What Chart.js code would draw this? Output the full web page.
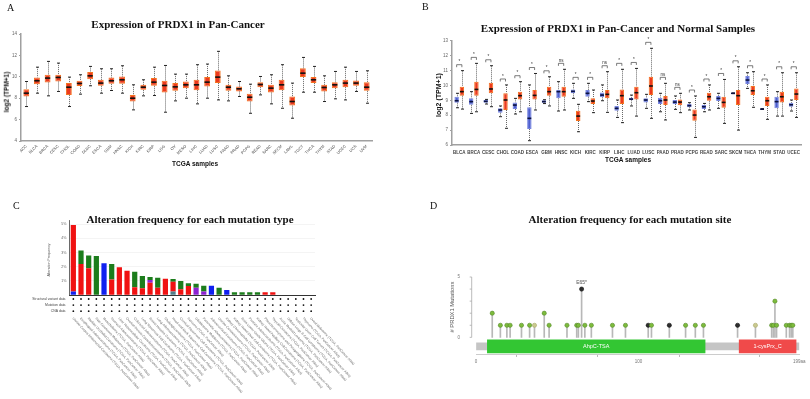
<!DOCTYPE html>
<html><head><meta charset="utf-8">
<script src="https://cdn.jsdelivr.net/npm/chart.js@4.4.1/dist/chart.umd.min.js"></script>
<style>
html,body{margin:0;padding:0;background:#fff;}
#wrap{position:relative;width:810px;height:399px;overflow:hidden;font-family:"Liberation Sans",Arial,sans-serif;background:#fff;}
#wrap canvas{position:absolute;}
.t{position:absolute;white-space:nowrap;line-height:1;}
.serif{font-family:"Liberation Serif","Times New Roman",serif;color:#111;}
.ttl{font-weight:bold;font-size:11px;transform:translate(-50%,-50%);}
.let{font-size:10px;}
.ax{font-weight:bold;color:#111;transform:translate(-50%,-50%);}
.rot{transform:translate(-50%,-50%) rotate(-90deg);}
</style></head>
<body><div id="wrap">
<canvas id="cA" width="405" height="200" style="left:0;top:0;width:405px;height:200px"></canvas>
<canvas id="cB" width="405" height="200" style="left:405px;top:0;width:405px;height:200px"></canvas>
<canvas id="cC" width="405" height="199" style="left:0;top:200px;width:405px;height:199px"></canvas>
<canvas id="cD" width="405" height="199" style="left:405px;top:200px;width:405px;height:199px"></canvas>

<div class="t serif let" style="left:7px;top:2.7px">A</div>
<div class="t serif let" style="left:422px;top:1.7px">B</div>
<div class="t serif let" style="left:13px;top:200.7px">C</div>
<div class="t serif let" style="left:430px;top:200.7px">D</div>

<div class="t serif ttl" style="left:178px;top:24px">Expression of PRDX1 in Pan-Cancer</div>
<div class="t serif ttl" style="left:618px;top:28px">Expression of PRDX1 in Pan-Cancer and Normal Samples</div>
<div class="t serif ttl" style="left:190px;top:219px">Alteration frequency for each mutation type</div>
<div class="t serif ttl" style="left:630px;top:219px">Alteration frequency for each mutation site</div>

<div class="t ax rot" style="left:6.5px;top:91.5px;font-size:6.5px">log2 (TPM+1)</div>
<div class="t ax" style="left:195px;top:164px;font-size:6.5px">TCGA samples</div>
<div class="t ax rot" style="left:438px;top:95px;font-size:7px">log2 (TPM+1)</div>
<div class="t ax" style="left:628px;top:160px;font-size:6.5px">TCGA samples</div>
<div class="t rot" style="left:453px;top:307px;font-size:5.8px;color:#555">#&nbsp;PRDX1 Mutations</div>
</div>
<script>
// ---------------- DATA ----------------
// Panel A: tumour expression, log2(TPM+1)
const cancersA = ['ACC','BLCA','BRCA','CESC','CHOL','COAD','DLBC','ESCA','GBM','HNSC','KICH','KIRC','KIRP','LGG','OV','MESO','LIHC','LUAD','LUSC','PAAD','PRAD','PCPG','READ','SARC','SKCM','LAML','TGCT','THCA','THYM','STAD','UCEC','UCS','UVM'];
const aMax = [9.56,10.9,11.44,11.28,9.97,10.19,10.97,10.75,10.75,11.03,9.25,9.72,10.9,11.06,10.25,10.25,11.13,11.19,12.38,10.09,9.56,9.31,10.03,10.19,11.13,9.41,11.81,10.97,10.09,10.5,10.9,10.5,10.56];
const aQ3  = [8.84,9.94,10.19,10.19,9.41,9.63,10.44,9.72,9.94,10.03,8.31,9.25,9.88,9.63,9.41,9.56,9.72,9.97,10.59,9.25,9.09,8.41,9.5,9.25,9.72,8.16,10.81,9.97,9.25,9.5,9.72,9.66,9.5];
const aMed = [8.47,9.63,9.88,9.94,9.03,9.38,10.09,9.41,9.63,9.72,8.0,9.03,9.5,9.19,9.06,9.25,9.25,9.5,9.97,9.03,8.88,8.09,9.28,8.94,9.25,7.69,10.34,9.72,9.0,9.25,9.41,9.41,9.03];
const aQ1  = [8.16,9.31,9.47,9.56,8.31,9.13,9.78,9.16,9.34,9.34,7.69,8.78,9.16,8.53,8.69,8.94,8.75,9.09,9.41,8.69,8.63,7.69,9.03,8.53,8.75,7.31,9.97,9.41,8.63,8.94,9.03,9.16,8.69];
const aMin = [7.22,8.47,8.22,8.63,7.22,8.38,9.16,8.47,8.72,8.47,6.91,8.22,8.25,6.69,7.75,8.0,7.47,8.0,7.84,7.75,8.16,6.59,8.31,7.47,7.06,6.13,8.56,8.56,7.69,7.94,7.84,8.63,7.53];

// Panel B: normal vs tumour
const cancersB = ['BLCA','BRCA','CESC','CHOL','COAD','ESCA','GBM','HNSC','KICH','KIRC','KIRP','LIHC','LUAD','LUSC','PAAD','PRAD','PCPG','READ','SARC','SKCM','THCA','THYM','STAD','UCEC'];
const nMin = [8.5,8.12,8.75,7.9,8.08,6.29,8.78,8.28,9.13,8.91,8.97,7.85,8.62,8.46,8.23,8.39,8.35,8.23,8.46,9.45,9.8,8.39,7.94,8.28];
const nQ1  = [8.84,8.7,8.84,8.17,8.41,7.07,8.84,9.13,9.47,9.24,9.2,8.3,9.0,8.86,8.75,8.75,8.53,8.41,8.95,9.45,10.09,8.39,8.46,8.57];
const nMed = [8.97,8.91,8.93,8.35,8.68,7.79,8.91,9.58,9.6,9.47,9.35,8.46,9.08,9.02,8.97,8.88,8.64,8.57,9.13,9.47,10.36,8.41,8.91,8.7];
const nQ3  = [9.24,9.13,9.02,8.46,8.86,8.53,9.0,9.69,9.73,9.69,9.53,8.62,9.17,9.13,9.17,9.02,8.75,8.68,9.29,9.49,10.63,8.43,9.24,8.84];
const nMax = [9.47,9.58,9.06,8.62,9.13,10.03,9.04,10.25,10.14,10.14,10.03,9.02,9.35,9.4,9.47,9.29,8.84,8.79,9.47,9.49,10.85,8.43,9.58,9.02];
const tMin = [8.41,8.23,8.57,7.12,8.23,8.35,8.62,8.35,6.89,8.17,8.19,7.5,7.94,7.79,7.68,8.17,6.51,8.35,7.45,7.0,8.53,7.72,7.94,7.85];
const tQ1  = [9.31,9.31,9.47,8.35,9.06,9.06,9.31,9.24,7.61,8.75,9.13,8.75,9.06,9.35,8.68,8.66,7.63,8.97,8.5,8.68,9.35,8.62,8.86,9.02];
const tMed = [9.58,9.73,9.76,9.02,9.31,9.33,9.58,9.58,7.94,8.95,9.4,9.31,9.51,9.96,9.02,8.88,8.01,9.24,8.86,9.31,9.64,8.97,9.24,9.42];
const tQ3  = [9.91,10.25,10.18,9.47,9.58,9.69,9.91,9.91,8.3,9.13,9.69,9.73,9.91,10.58,9.29,9.06,8.39,9.51,9.24,9.69,9.96,9.24,9.58,9.8];
const tMax = [10.99,11.48,11.32,10.03,10.25,10.8,10.58,11.08,8.73,9.69,10.92,11.08,11.14,12.49,10.14,9.47,9.29,10.03,10.4,11.25,10.92,10.03,10.85,10.85];
const sigB = ['*','*','*','*','*','*','*','ns','*','*','ns','*','*','*','ns','ns','*','*','*','*','*','*','*','*'];

// Panel C: alteration frequency (%) per study
const studiesC = [
 'Uterine Corpus Endometrial Carcinoma (TCGA, PanCancer Atlas)',
 'Esophageal Adenocarcinoma (TCGA, PanCancer Atlas)',
 'Bladder Urothelial Carcinoma (TCGA, PanCancer Atlas)',
 'Skin Cutaneous Melanoma (TCGA, PanCancer Atlas)',
 'Mesothelioma (TCGA, PanCancer Atlas)',
 'Stomach Adenocarcinoma (TCGA, PanCancer Atlas)',
 'Liver Hepatocellular Carcinoma (TCGA, PanCancer Atlas)',
 'Ovarian Serous Cystadenocarcinoma (TCGA, PanCancer Atlas)',
 'Colorectal Adenocarcinoma (TCGA, PanCancer Atlas)',
 'Lung Squamous Cell Carcinoma (TCGA, PanCancer Atlas)',
 'Breast Invasive Carcinoma (TCGA, PanCancer Atlas)',
 'Lung Adenocarcinoma (TCGA, PanCancer Atlas)',
 'Cholangiocarcinoma (TCGA, PanCancer Atlas)',
 'Head and Neck Squamous Cell Carcinoma (TCGA, PanCancer Atlas)',
 'Cervical Squamous Cell Carcinoma (TCGA, PanCancer Atlas)',
 'Sarcoma (TCGA, PanCancer Atlas)',
 'Glioblastoma Multiforme (TCGA, PanCancer Atlas)',
 'Pancreatic Adenocarcinoma (TCGA, PanCancer Atlas)',
 'Adrenocortical Carcinoma (TCGA, PanCancer Atlas)',
 'Uterine Carcinosarcoma (TCGA, PanCancer Atlas)',
 'Kidney Chromophobe (TCGA, PanCancer Atlas)',
 'Kidney Renal Clear Cell Carcinoma (TCGA, PanCancer Atlas)',
 'Brain Lower Grade Glioma (TCGA, PanCancer Atlas)',
 'Prostate Adenocarcinoma (TCGA, PanCancer Atlas)',
 'Kidney Renal Papillary Cell Carcinoma (TCGA, PanCancer Atlas)',
 'Pheochromocytoma and Paraganglioma (TCGA, PanCancer Atlas)',
 'Thyroid Carcinoma (TCGA, PanCancer Atlas)',
 'Acute Myeloid Leukemia (TCGA, PanCancer Atlas)',
 'Diffuse Large B-Cell Lymphoma (TCGA, PanCancer Atlas)',
 'Testicular Germ Cell Tumors (TCGA, PanCancer Atlas)',
 'Thymoma (TCGA, PanCancer Atlas)',
 'Uveal Melanoma (TCGA, PanCancer Atlas)'];
const cDeepDel = [0.24,0,0,0,2.24,0,0,0,0,0,0,0,0,0,0,0,0,0,0.66,0,0.35,0,0,0,0,0,0,0,0,0,0,0];
const cMulti   = [0,0,0,0,0,0,0,0,0,0,0,0,0,0.24,0,0,0,0,0,0,0,0,0,0,0,0,0,0,0,0,0,0];
const cAmp     = [4.72,2.2,1.9,0,0,1.1,1.96,1.72,0.54,0.47,0.87,0.52,1.15,0.7,0.4,0.64,0,0,0,0,0,0,0,0,0,0.19,0.19,0,0,0,0,0];
const cSV      = [0,0,0,0,0,0,0,0,0,0,0.2,0,0,0,0,0,0.52,0.24,0,0,0,0,0,0,0,0,0,0,0,0,0,0];
const cMut     = [0,0.94,0.9,2.76,0,1.1,0,0,1.11,0.87,0.2,0.7,0,0.19,0.59,0.19,0.28,0.42,0,0.52,0,0.19,0.19,0.19,0.19,0,0,0,0,0,0,0];
const rowLabelsC = ['Structural variant data','Mutation data','CNA data'];
const yTicksC = [0,1,2,3,4,5];

// Panel D: lollipop
const proteinLength = 199;
const domainNames = ['AhpC-TSA','1-cysPrx_C'];
const domainStart = [7,162];
const domainEnd   = [141,197];
const mutPos   = [10,15,19,21,28,33,36,42,45,56,62,63,65,67,71,84,92,106,108,119,129,135,140,161,172,182,183,184,185,191,193,194,195];
const mutCount = [2,1,1,1,1,1,1,2,1,1,1,1,4,1,1,1,1,1,1,1,1,1,1,1,1,1,1,3,1,1,1,1,1];
const mutType  = ['m','m','m','m','m','m','o','m','m','m','m','m','t','m','m','m','m','t','m','t','m','m','m','t','o','m','m','m','m','m','m','m','m'];
const hotspotLabel = 'E65*';
const xTicksD = [0,50,100,150,199];
const yTicksD = [0,1,2,3,4,5];

// ---------------- HELPERS ----------------
const FONT = '"Liberation Sans", Arial, sans-serif';
Chart.defaults.font.family = FONT;
Chart.defaults.animation = false;
function seg(ctx,x1,y1,x2,y2){ctx.beginPath();ctx.moveTo(x1,y1);ctx.lineTo(x2,y2);ctx.stroke();}

const boxPlot = {
  id:'boxPlot',
  afterDatasetsDraw(chart){
    const ctx = chart.ctx, ys = chart.scales.y;
    chart.data.datasets.forEach((ds,di)=>{
      const s = ds.stats; if(!s) return;
      const meta = chart.getDatasetMeta(di);
      meta.data.forEach((el,j)=>{
        const x = Math.round(el.x)+0.5, hw = el.width/2;
        const pMin=ys.getPixelForValue(s.min[j]), pQ1=ys.getPixelForValue(s.q1[j]),
              pMed=ys.getPixelForValue(s.med[j]), pQ3=ys.getPixelForValue(s.q3[j]),
              pMax=ys.getPixelForValue(s.max[j]);
        ctx.save();
        ctx.strokeStyle = '#666'; ctx.lineWidth = 1; ctx.setLineDash([1,1]);
        seg(ctx,x,pMax,x,pQ3); seg(ctx,x,pQ1,x,pMin);
        ctx.setLineDash([]);
        ctx.strokeStyle = '#222';
        seg(ctx,x-1.5,pMax,x+1.5,pMax); seg(ctx,x-1.5,pMin,x+1.5,pMin);
        ctx.strokeStyle = s.medColor; ctx.lineWidth = 1.6;
        seg(ctx,el.x-hw+0.3,pMed,el.x+hw-0.3,pMed);
        ctx.restore();
      });
    });
  }
};

// ---------------- PANEL A ----------------
new Chart(document.getElementById('cA'), {
  type:'bar',
  data:{labels:cancersA, datasets:[{
    data: cancersA.map((_,i)=>[aQ1[i],aQ3[i]]),
    backgroundColor:'#ec3a1e', borderColor:'#f5721f', borderWidth:1, borderSkipped:false,
    categoryPercentage:1, barPercentage:0.55,
    stats:{min:aMin,q1:aQ1,med:aMed,q3:aQ3,max:aMax,medColor:'#111'}
  }]},
  options:{responsive:false, devicePixelRatio:1, animation:false,
    layout:{padding:{left:0,right:33,top:34,bottom:30}},
    plugins:{legend:{display:false},tooltip:{enabled:false}},
    scales:{
      x:{grid:{drawOnChartArea:false,drawTicks:false}, border:{color:'#a0a0a0',width:1.5},
         ticks:{font:{size:4},color:'#444',minRotation:45,maxRotation:45,autoSkip:false,padding:3},
         afterFit(s){s.height=29;}},
      y:{min:4,max:14, ticks:{stepSize:2,font:{size:4.5},color:'#666',padding:2},
         grid:{drawOnChartArea:false,tickLength:2,color:'#a0a0a0'}, border:{color:'#a0a0a0',width:1.5},
         afterFit(s){s.width=21;}}
    }},
  plugins:[boxPlot]
});

// ---------------- PANEL B ----------------
const sigPlugin = {
  id:'sig',
  afterDatasetsDraw(chart){
    const ctx=chart.ctx, ys=chart.scales.y;
    const m0=chart.getDatasetMeta(0), m1=chart.getDatasetMeta(1);
    ctx.save(); ctx.strokeStyle='#444'; ctx.lineWidth=0.7; ctx.fillStyle='#333';
    ctx.font='4.5px '+FONT; ctx.textAlign='center'; ctx.textBaseline='bottom';
    sigB.forEach((lab,j)=>{
      const x1=m0.data[j].x, x2=m1.data[j].x;
      const yb=ys.getPixelForValue(Math.max(nMax[j],tMax[j])+0.4);
      ctx.beginPath(); ctx.moveTo(x1,yb+2.5); ctx.lineTo(x1,yb); ctx.lineTo(x2,yb); ctx.lineTo(x2,yb+2.5); ctx.stroke();
      ctx.fillText(lab,(x1+x2)/2,yb-0.3);
    });
    ctx.restore();
  }
};
new Chart(document.getElementById('cB'), {
  type:'bar',
  data:{labels:cancersB, datasets:[
    {label:'Normal', data:cancersB.map((_,i)=>[nQ1[i],nQ3[i]]),
     backgroundColor:'#4d5fd0', borderColor:'#7786e0', borderWidth:1, borderSkipped:false,
     categoryPercentage:0.72, barPercentage:0.85,
     stats:{min:nMin,q1:nQ1,med:nMed,q3:nQ3,max:nMax,medColor:'#0b1240'}},
    {label:'Tumor', data:cancersB.map((_,i)=>[tQ1[i],tQ3[i]]),
     backgroundColor:'#ec3a1e', borderColor:'#f5721f', borderWidth:1, borderSkipped:false,
     categoryPercentage:0.72, barPercentage:0.85,
     stats:{min:tMin,q1:tQ1,med:tMed,q3:tQ3,max:tMax,medColor:'#111'}}
  ]},
  options:{responsive:false, devicePixelRatio:1, animation:false,
    layout:{padding:{left:0,right:9,top:40.7,bottom:30}},
    plugins:{legend:{display:false},tooltip:{enabled:false}},
    scales:{
      x:{grid:{drawOnChartArea:false,drawTicks:false}, border:{color:'#a0a0a0',width:1.5},
         ticks:{font:{size:4.5,weight:'bold'},color:'#444',maxRotation:0,autoSkip:false,padding:5},
         afterFit(s){s.height=25;}},
      y:{min:6,max:13, ticks:{stepSize:1,font:{size:4.5},color:'#666',padding:2},
         grid:{drawOnChartArea:false,tickLength:2,color:'#a0a0a0'}, border:{color:'#a0a0a0',width:1.5},
         afterFit(s){s.width=47;}}
    }},
  plugins:[boxPlot, sigPlugin]
});

// ---------------- PANEL C ----------------
const cExtras = {
  id:'cExtras',
  afterDraw(chart){
    const {ctx, chartArea:a, scales:{x}} = chart;
    ctx.save();
    // y title
    ctx.save(); ctx.translate(49,60); ctx.rotate(-Math.PI/2);
    ctx.font='3.6px '+FONT; ctx.fillStyle='#555'; ctx.textAlign='center'; ctx.textBaseline='middle';
    ctx.fillText('Alteration Frequency',0,0); ctx.restore();
    // data-availability rows
    ctx.font='3.4px '+FONT; ctx.fillStyle='#444'; ctx.textAlign='right'; ctx.textBaseline='middle';
    rowLabelsC.forEach((lab,r)=>{
      const yy=a.bottom+4+r*6.1;
      ctx.fillStyle='#444'; ctx.fillText(lab,a.left-4,yy);
      ctx.fillStyle='#111';
      studiesC.forEach((_,i)=>{ctx.beginPath();ctx.arc(x.getPixelForValue(i),yy,0.9,0,Math.PI*2);ctx.fill();});
    });
    // study labels
    ctx.font='3.3px '+FONT; ctx.fillStyle='#666'; ctx.textAlign='left'; ctx.textBaseline='middle';
    studiesC.forEach((name,i)=>{
      ctx.save(); ctx.translate(x.getPixelForValue(i)-0.5,a.bottom+23); ctx.rotate(0.82);
      ctx.fillText(name,0,0); ctx.restore();
    });
    ctx.restore();
  }
};
new Chart(document.getElementById('cC'), {
  type:'bar',
  data:{labels:studiesC, datasets:[
    {label:'Deep Deletion', data:cDeepDel, backgroundColor:'#1020f0'},
    {label:'Multiple Alterations', data:cMulti, backgroundColor:'#4f7d8a'},
    {label:'Amplification', data:cAmp, backgroundColor:'#f01212'},
    {label:'Structural Variant', data:cSV, backgroundColor:'#8d22d2'},
    {label:'Mutation', data:cMut, backgroundColor:'#1c7d1c'}
  ]},
  options:{responsive:false, devicePixelRatio:1, animation:false,
    datasets:{bar:{categoryPercentage:1, barPercentage:0.68, borderWidth:0}},
    layout:{padding:{left:0,right:90,top:20.8,bottom:0}},
    plugins:{legend:{display:false},tooltip:{enabled:false}},
    scales:{
      x:{stacked:true, grid:{display:false}, border:{color:'#333',width:1},
         ticks:{display:false}, afterFit(s){s.height=104;}},
      y:{stacked:true, min:0, max:5.25,
         afterBuildTicks(s){s.ticks=yTicksC.map(v=>({value:v}));},
         ticks:{callback:v=>v===0?'':v+'%', font:{size:3.6}, color:'#666', padding:3},
         grid:{color:'#ececec',lineWidth:0.6,drawTicks:false}, border:{color:'#444',width:0.8},
         afterFit(s){s.width=69.5;}}
    }},
  plugins:[cExtras]
});

// ---------------- PANEL D ----------------
const dExtras = {
  id:'dExtras',
  afterDatasetsDraw(chart){
    const {ctx, chartArea:a, scales:{y}} = chart;
    ctx.save();
    const ax=a.left-4.3;
    ctx.strokeStyle='#aaa'; ctx.lineWidth=0.8;
    seg(ctx,ax,y.getPixelForValue(0),ax,y.getPixelForValue(5));
    yTicksD.forEach(v=>seg(ctx,ax-2,y.getPixelForValue(v),ax,y.getPixelForValue(v)));
    // domain names
    const dm=chart.getDatasetMeta(2);
    ctx.font='5.5px '+FONT; ctx.fillStyle='#fff'; ctx.textAlign='center'; ctx.textBaseline='middle';
    dm.data.forEach((el,i)=>ctx.fillText(domainNames[i],(el.x+el.base)/2,el.y));
    // hotspot label
    const hm=chart.getDatasetMeta(0);
    const k=mutCount.indexOf(Math.max(...mutCount));
    ctx.font='5px '+FONT; ctx.fillStyle='#555'; ctx.textBaseline='bottom';
    ctx.fillText(hotspotLabel,hm.data[k].x,hm.data[k].y-3.5);
    ctx.restore();
  }
};
const headColors = {m:'#7dbb3c', t:'#2e2e2e', o:'#c9c98f'};
const headBorders = {m:'#55892a', t:'#111', o:'#a9a96a'};
new Chart(document.getElementById('cD'), {
  type:'bar',
  data:{datasets:[
    {type:'scatter', order:0, data:mutPos.map((p,i)=>({x:p,y:mutCount[i]})),
     pointRadius:2.1, pointBorderWidth:0.6,
     pointBackgroundColor:mutType.map(t=>headColors[t]), pointBorderColor:mutType.map(t=>headBorders[t])},
    {type:'bar', order:1, grouped:false, data:mutPos.map((p,i)=>({x:p,y:mutCount[i]})),
     barThickness:1, backgroundColor:'#b8b8b8'},
    {type:'bar', order:2, grouped:false, indexAxis:'y',
     data:domainNames.map((n,i)=>({x:[domainStart[i],domainEnd[i]], y:-0.75})),
     barThickness:13, backgroundColor:['#33c633','#f04a4a'], borderSkipped:false, borderWidth:0},
    {type:'bar', order:3, grouped:false, indexAxis:'y',
     data:[{x:[0,proteinLength], y:-0.75}],
     barThickness:7, backgroundColor:'#c5c5c5', borderWidth:0}
  ]},
  options:{responsive:false, devicePixelRatio:1, animation:false,
    layout:{padding:{left:0,right:10.7,top:77,bottom:15}},
    plugins:{legend:{display:false},tooltip:{enabled:false}},
    scales:{
      x:{type:'linear', min:0, max:proteinLength, offset:false,
         afterBuildTicks(s){s.ticks=xTicksD.map(v=>({value:v}));},
         ticks:{callback:v=>v===proteinLength?v+'aa':(v%100===0?String(v):''), font:{size:4.5}, color:'#777', padding:2, autoSkip:false, maxRotation:0},
         grid:{drawOnChartArea:false, drawTicks:true, tickLength:3, color:'#bbb'}, border:{color:'#ccc'},
         afterFit(s){s.height=30;}},
      y:{type:'linear', min:-1.38, max:5, offset:false,
         afterBuildTicks(s){s.ticks=yTicksD.map(v=>({value:v}));},
         ticks:{callback:v=>(v===0||v===5)?String(v):'', font:{size:4.5}, color:'#777', padding:8},
         grid:{display:false}, border:{display:false},
         afterFit(s){s.width=71;}}
    }},
  plugins:[dExtras]
});
</script>
</body></html>
